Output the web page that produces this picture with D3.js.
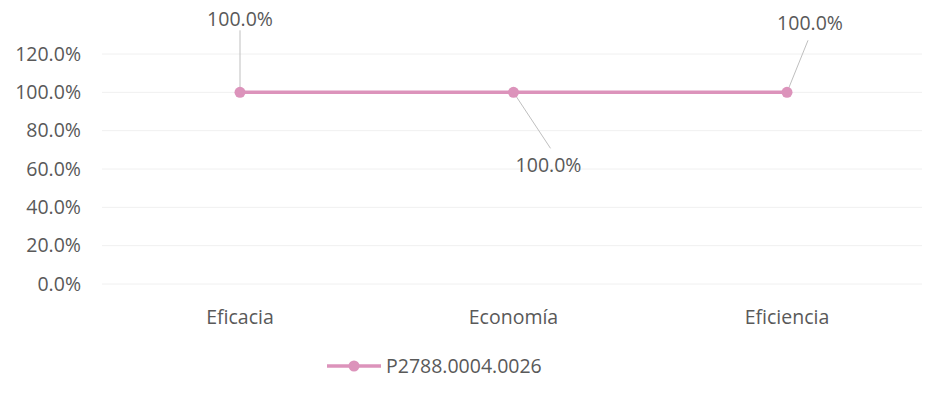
<!DOCTYPE html>
<html>
<head>
<meta charset="utf-8">
<script src="https://cdn.jsdelivr.net/npm/d3@7"></script>
<style>
  body { margin: 0; background: #fff; }
  text { font-family: "Open Sans", sans-serif; fill: #595959; font-size: 19.5px; }
</style>
</head>
<body>
<svg width="942" height="406"></svg>
<script>
var categories = ["Eficacia", "Economía", "Eficiencia"];
var values = [1.0, 1.0, 1.0];
var yTicks = [0, 0.2, 0.4, 0.6, 0.8, 1.0, 1.2];
var seriesName = "P2788.0004.0026";

var svg = d3.select("svg");
var lineColor = "#dc93bb";

var x = d3.scalePoint()
  .domain(categories)
  .range([240, 787]);

var y = d3.scaleLinear()
  .domain([0, 1.2])
  .range([284, 54]);

var fmt = d3.format(".1%");

// label placement for each point: label offset and where the leader ends
var labelPos = [
  { dx: 0, dy: -73, lx: 0, ly: -62 },
  { dx: 35, dy: 73, lx: 37, ly: 56 },
  { dx: 23, dy: -69, lx: 21, ly: -52 }
];

// gridlines
svg.append("g")
  .selectAll("line")
  .data(yTicks)
  .enter().append("line")
  .attr("x1", 102).attr("x2", 922)
  .attr("y1", function(d) { return y(d); })
  .attr("y2", function(d) { return y(d); })
  .attr("stroke", "#f0f0f0")
  .attr("stroke-width", 1);

// y labels
svg.append("g")
  .selectAll("text")
  .data(yTicks)
  .enter().append("text")
  .attr("x", 81)
  .attr("y", function(d) { return y(d); })
  .attr("dy", "0.35em")
  .attr("text-anchor", "end")
  .text(function(d) { return fmt(d); });

// x labels
svg.append("g")
  .selectAll("text")
  .data(categories)
  .enter().append("text")
  .attr("x", function(d) { return x(d); })
  .attr("y", 317)
  .attr("dy", "0.35em")
  .attr("text-anchor", "middle")
  .text(function(d) { return d; });

var pts = categories.map(function(c, i) { return { c: c, v: values[i], i: i }; });

// leader lines
svg.append("g")
  .selectAll("line")
  .data(pts)
  .enter().append("line")
  .attr("x1", function(d) { return x(d.c); })
  .attr("y1", function(d) { return y(d.v); })
  .attr("x2", function(d) { return x(d.c) + labelPos[d.i].lx; })
  .attr("y2", function(d) { return y(d.v) + labelPos[d.i].ly; })
  .attr("stroke", "#bfbfbf")
  .attr("stroke-width", 1);

// line
svg.append("path")
  .datum(pts)
  .attr("fill", "none")
  .attr("stroke", lineColor)
  .attr("stroke-width", 3.5)
  .attr("d", d3.line()
    .x(function(d) { return x(d.c); })
    .y(function(d) { return y(d.v); }));

svg.append("g")
  .selectAll("circle")
  .data(pts)
  .enter().append("circle")
  .attr("cx", function(d) { return x(d.c); })
  .attr("cy", function(d) { return y(d.v); })
  .attr("r", 5.5)
  .attr("fill", lineColor);

// data labels
svg.append("g")
  .selectAll("text")
  .data(pts)
  .enter().append("text")
  .attr("x", function(d) { return x(d.c) + labelPos[d.i].dx; })
  .attr("y", function(d) { return y(d.v) + labelPos[d.i].dy; })
  .attr("dy", "0.35em")
  .attr("text-anchor", "middle")
  .text(function(d) { return fmt(d.v); });

// legend
var lg = svg.append("g").attr("transform", "translate(327,366)");
lg.append("line")
  .attr("x1", 0).attr("x2", 54)
  .attr("stroke", lineColor).attr("stroke-width", 3.5);
lg.append("circle")
  .attr("cx", 27).attr("r", 5.5).attr("fill", lineColor);
lg.append("text")
  .attr("x", 59).attr("dy", "0.35em")
  .text(seriesName);
</script>
</body>
</html>
